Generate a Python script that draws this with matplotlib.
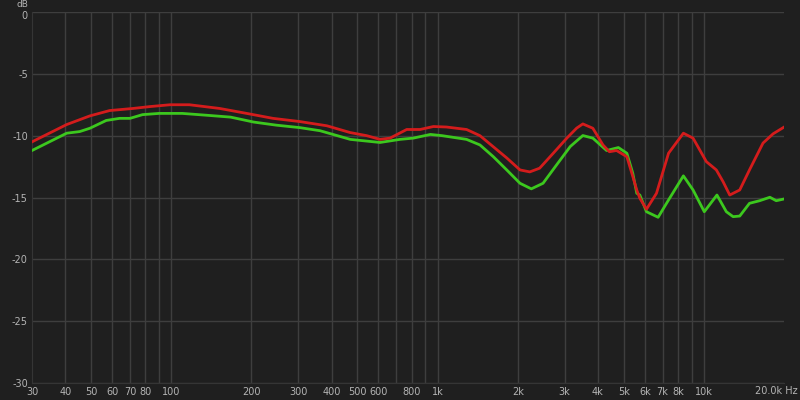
import matplotlib.pyplot as plt
import matplotlib.transforms as mtransforms

# frequency response (Hz, dB)
red_freq = [30, 40.5, 49.5, 58.7, 71.8, 83, 99, 117, 152, 192, 241, 304, 384, 470, 542, 608,
            663, 766, 860, 965, 1080, 1285, 1443, 1620, 1819, 2040, 2220, 2418, 2720, 3058,
            3330, 3513, 3830, 4180, 4420, 4700, 5140, 5410, 5600, 5750, 6090, 6640, 7370,
            8380, 9110, 10220, 11140, 11810, 12510, 13640, 14840, 16680, 18200, 20000]
red_db = [-10.5, -9.1, -8.4, -7.97, -7.8, -7.65, -7.5, -7.5, -7.8, -8.2, -8.6, -8.86, -9.2,
          -9.75, -10.0, -10.3, -10.2, -9.5, -9.5, -9.26, -9.3, -9.5, -10.0, -10.9, -11.8,
          -12.77, -12.93, -12.63, -11.42, -10.2, -9.39, -9.05, -9.4, -10.75, -11.3, -11.2,
          -11.7, -13.3, -14.4, -15.06, -15.95, -14.66, -11.42, -9.8, -10.2, -12.1, -12.77,
          -13.72, -14.8, -14.39, -12.77, -10.6, -9.85, -9.31]

green_freq = [30, 40.5, 45.3, 49.5, 57, 64, 70, 78, 90, 110, 136, 167, 204, 248, 304, 362,
              405, 470, 608, 723, 810, 940, 1040, 1285, 1443, 1620, 1819, 2040, 2250, 2490,
              2800, 3150, 3513, 3830, 4315, 4775, 5140, 5410, 5600, 5750, 6090, 6735, 7370,
              8380, 9110, 10040, 11200, 12150, 12880, 13640, 14840, 16200, 17700, 18700, 20000]
green_db = [-11.2, -9.8, -9.67, -9.4, -8.77, -8.6, -8.6, -8.3, -8.2, -8.2, -8.35, -8.5, -8.9,
            -9.15, -9.35, -9.6, -9.9, -10.3, -10.55, -10.3, -10.2, -9.9, -10.0, -10.3, -10.75,
            -11.7, -12.77, -13.85, -14.3, -13.85, -12.36, -10.88, -9.99, -10.2, -11.2, -10.96,
            -11.42, -13.04, -14.66, -14.8, -16.15, -16.6, -15.2, -13.25, -14.39, -16.15,
            -14.8, -16.15, -16.55, -16.5, -15.47, -15.26, -14.98, -15.26, -15.12]

grid_freqs = [40, 50, 60, 70, 80, 90, 100, 200, 300, 400, 500, 600, 700, 800, 900, 1000,
              2000, 3000, 4000, 5000, 6000, 7000, 8000, 9000, 10000]
tick_freqs = [30, 40, 50, 60, 70, 80, 100, 200, 300, 400, 500, 600, 800, 1000,
              2000, 3000, 4000, 5000, 6000, 7000, 8000, 10000, 20000]
tick_labels = ['30', '40', '50', '60', '70', '80', '100', '200', '300', '400', '500', '600',
               '800', '1k', '2k', '3k', '4k', '5k', '6k', '7k', '8k', '10k', '']
db_ticks = [0, -5, -10, -15, -20, -25, -30]

bg = '#1f1f1f'
txt = '#b4b4b4'
gridc = '#3e3e3e'

fig = plt.figure(figsize=(8, 4), dpi=100, facecolor=bg)
ax = fig.add_axes([0.04, 0.0425, 0.94, 0.9275], facecolor=bg)
ax.set_xscale('log')
ax.set_xlim(30, 20000)
ax.set_ylim(-30, 0)

for f in grid_freqs:
    ax.axvline(f, color=gridc, lw=1, zorder=1)
for d in db_ticks:
    ax.axhline(d, color=gridc, lw=1, zorder=1)

ax.plot(green_freq, green_db, color='#3cc81e', lw=2, zorder=3, solid_joinstyle='round')
ax.plot(red_freq, red_db, color='#d41c1c', lw=2, zorder=4, solid_joinstyle='round')

ax.set_xticks(tick_freqs)
ax.set_xticklabels(tick_labels)
ax.xaxis.set_minor_locator(plt.NullLocator())
ax.set_yticks(db_ticks)
ax.set_yticklabels([str(d) for d in db_ticks])
ax.tick_params(colors=txt, labelsize=7, length=0, pad=3)
for s in ax.spines.values():
    s.set_color('#353535')
ax.spines['top'].set_visible(False)
ax.spines['right'].set_visible(False)

# nudge the top "0" label down a little so it clears the "dB" unit
top_lab = ax.get_yticklabels()[0]
top_lab.set_transform(top_lab.get_transform() +
                      mtransforms.ScaledTranslation(0, -2 / 72, fig.dpi_scale_trans))

fig.text(0.035, 0.983, 'dB', color=txt, fontsize=6.5, ha='right', va='baseline')
fig.text(0.997, 0.035, '20.0k Hz', color=txt, fontsize=7, ha='right', va='top')

fig.savefig('out.png', dpi=100, facecolor=bg)
